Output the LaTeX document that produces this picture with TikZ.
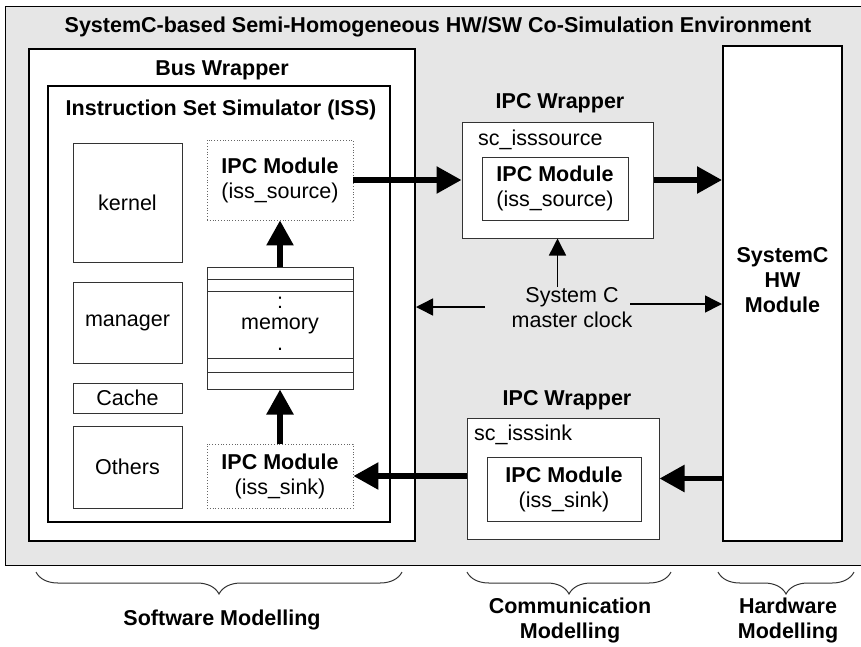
\documentclass[tikz,border=0pt]{standalone}
\usepackage{fontspec}
\setmainfont{Liberation Sans}
\usetikzlibrary{arrows.meta,calc,decorations.pathreplacing}
\definecolor{bggray}{HTML}{E6E6E6}
\definecolor{edgegray}{HTML}{333333}
\begin{document}
\begin{tikzpicture}[x=1pt,y=-1pt,
  font=\fontsize{21.5}{25}\selectfont,
  box/.style={draw=edgegray, line width=1pt, fill=white, inner sep=0pt, align=center},
  heavybox/.style={draw=black, line width=2pt, fill=white, inner sep=0pt},
  dotbox/.style={draw=gray!80!black, dotted, line width=0.8pt, fill=white, inner sep=0pt, align=center},
  lbl/.style={inner sep=0pt, align=center},
  bold/.style={font=\fontsize{21.5}{25}\selectfont\bfseries},
  bigarrow/.style={line width=5.5pt, -{Triangle[length=25pt,width=26pt]}},
  smallarrow/.style={line width=1.5pt, -{Triangle[length=17pt,width=17pt]}},
  mybrace/.style={decorate, decoration={brace, amplitude=22pt, mirror}, draw=edgegray, line width=1pt}]
\useasboundingbox (0,0) rectangle (861,646);

% environment
\node[draw=black, line width=1pt, fill=bggray, inner sep=0pt, minimum width=860pt, minimum height=559pt] (env) at (435,285.5) {};
\node[lbl, bold] (title) at (438,27) {SystemC-based Semi-Homogeneous HW/SW Co-Simulation Environment};

% software side
\node[heavybox, minimum width=386pt, minimum height=492pt] (buswrap) at (222,295) {};
\node[lbl, bold] (buslbl) at (222,70) {Bus Wrapper};
\node[heavybox, minimum width=342pt, minimum height=436pt] (iss) at (219,304) {};
\node[lbl, bold] (isslbl) at (221,110) {Instruction Set Simulator (ISS)};

\node[box, minimum width=109pt, minimum height=119pt] (kernel) at (127.5,202.5) {kernel};
\node[box, minimum width=109pt, minimum height=81pt] (manager) at (127.5,322.5) {manager};
\node[box, minimum width=109pt, minimum height=30pt] (cache) at (127.5,398) {Cache};
\node[box, minimum width=109pt, minimum height=82pt] (others) at (127.5,467) {Others};

\node[dotbox, minimum width=146pt, minimum height=80pt] (ipcsrc) at (280,180) {\textbf{IPC Module}\\(iss\_source)};
\node[box, minimum width=146pt, minimum height=122pt] (memory) at (280,328) {};
\draw[edgegray, line width=1pt] (207,279) -- (353,279) (207,291) -- (353,291) (207,358) -- (353,358) (207,372) -- (353,372);
\node[lbl, font=\fontsize{21.5}{21}\selectfont] (memlbl) at (280,324) {:\\memory\\.};
\node[dotbox, minimum width=146pt, minimum height=64pt] (ipcsink) at (280,476) {\textbf{IPC Module}\\(iss\_sink)};

% communication
\node[lbl, bold] (wraplbl1) at (560,103) {IPC Wrapper};
\node[box, minimum width=191pt, minimum height=116pt] (wrapsrc) at (557.5,180) {};
\node[lbl, anchor=west] (scsrc) at (478,140) {sc\_isssource};
\node[box, minimum width=146pt, minimum height=63pt] (innersrc) at (555,188.5) {\textbf{IPC Module}\\(iss\_source)};

\node[lbl, bold] (wraplbl2) at (567,400) {IPC Wrapper};
\node[box, minimum width=192pt, minimum height=121pt] (wrapsink) at (563,478.5) {};
\node[lbl, anchor=west] (scsink) at (474,435) {sc\_isssink};
\node[box, minimum width=154pt, minimum height=64pt] (innersink) at (564,489) {\textbf{IPC Module}\\(iss\_sink)};

% hardware
\node[heavybox, minimum width=119pt, minimum height=495pt] (hw) at (782.5,293.5) {};
\node[lbl, bold] (hwlbl) at (782.5,280) {SystemC\\HW\\Module};

% clock
\node[lbl] (clock) at (572,307.5) {System C\\master clock};
\coordinate (clkL) at (485,307);
\coordinate (clkR) at (630,304);

% arrows
\draw[bigarrow] (ipcsrc.east) -- (wrapsrc.west);
\draw[bigarrow] (wrapsrc.east) -- (wrapsrc.east -| hw.west);
\draw[bigarrow] (memory.north) -- (ipcsrc.south);
\draw[bigarrow] (ipcsink.north) -- (memory.south);
\draw[bigarrow] (hw.west |- wrapsink.east) -- (wrapsink.east);
\draw[bigarrow] (ipcsink.east -| wrapsink.west) -- (ipcsink.east);

\draw[smallarrow] (wrapsrc.south |- clock.north) -- (wrapsrc.south);
\draw[smallarrow] (clkL) -- (clkL -| buswrap.east);
\draw[smallarrow] (clkR) -- (clkR -| hw.west);

% braces
\draw[mybrace] (36,572) -- (402,572);
\draw[mybrace] (467,572) -- (671,572);
\draw[mybrace] (718,572) -- (854,572);
\node[lbl, bold] (swlbl) at (222,620) {Software Modelling};
\node[lbl, bold] (comlbl) at (570,620) {Communication\\Modelling};
\node[lbl, bold] (hwmlbl) at (788,620) {Hardware\\Modelling};
\end{tikzpicture}
\end{document}
